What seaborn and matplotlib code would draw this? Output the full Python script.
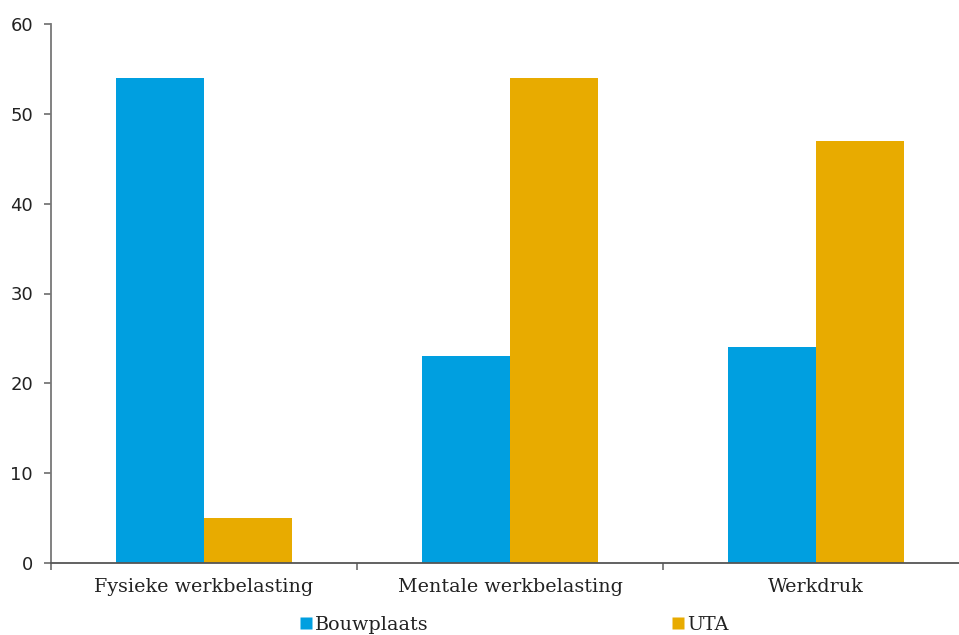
import pandas as pd
import matplotlib
matplotlib.use('Agg')
import matplotlib.pyplot as plt
import seaborn as sns
from matplotlib.lines import Line2D

categories = ['Fysieke werkbelasting', 'Mentale werkbelasting', 'Werkdruk']
bouwplaats = [54, 23, 24]
uta = [5, 54, 47]
series = ['Bouwplaats', 'UTA']
colors = ['#009FE0', '#E8AB00']

df = pd.DataFrame({
    'categorie': categories * 2,
    'groep': [series[0]] * 3 + [series[1]] * 3,
    'waarde': bouwplaats + uta,
})

sns.set_style('white')
plt.rcParams['font.family'] = ['DejaVu Sans']

fig = plt.figure(figsize=(9.59, 6.35), dpi=100)
ax = fig.add_axes([51 / 959, 72 / 635, 918 / 959, 539 / 635])

sns.barplot(data=df, x='categorie', y='waarde', hue='groep', palette=colors,
            width=0.572, gap=0, saturation=1, edgecolor='none', linewidth=0,
            legend=False, ax=ax)

ax.set_xlim(-0.5, 2.5)
ax.set_ylim(0, 60)
ax.set_yticks(range(0, 61, 10))
ax.set_xlabel('')
ax.set_ylabel('')

for s in ['top', 'right']:
    ax.spines[s].set_visible(False)
ax.spines['left'].set_color('#777777')
ax.spines['bottom'].set_color('#555555')
ax.spines['left'].set_linewidth(1.3)
ax.spines['bottom'].set_linewidth(1.3)

ax.tick_params(axis='y', which='major', length=5, width=1.3, color='#777777',
               pad=8, labelsize=13, labelcolor='#222222', left=True)
ax.tick_params(axis='x', which='major', length=0, pad=11, labelsize=13.8,
               labelcolor='#222222')
ax.set_xticks([-0.5, 0.5, 1.5], minor=True)
ax.tick_params(axis='x', which='minor', length=5, width=1.3, color='#777777',
               direction='out', bottom=True)
for lbl in ax.get_xticklabels():
    lbl.set_family('DejaVu Serif')

handles = [Line2D([], [], marker='s', linestyle='none', markersize=8,
                  markerfacecolor=c, markeredgecolor='none') for c in colors]
leg = fig.legend(handles, series, loc='center', bbox_to_anchor=(0.5365, 10 / 635),
                 ncol=2, frameon=False, handlelength=0.55, handletextpad=0.2,
                 columnspacing=12.7, prop={'family': 'DejaVu Serif', 'size': 13.8})
for t in leg.get_texts():
    t.set_color('#222222')

fig.savefig('out.png', dpi=100)
